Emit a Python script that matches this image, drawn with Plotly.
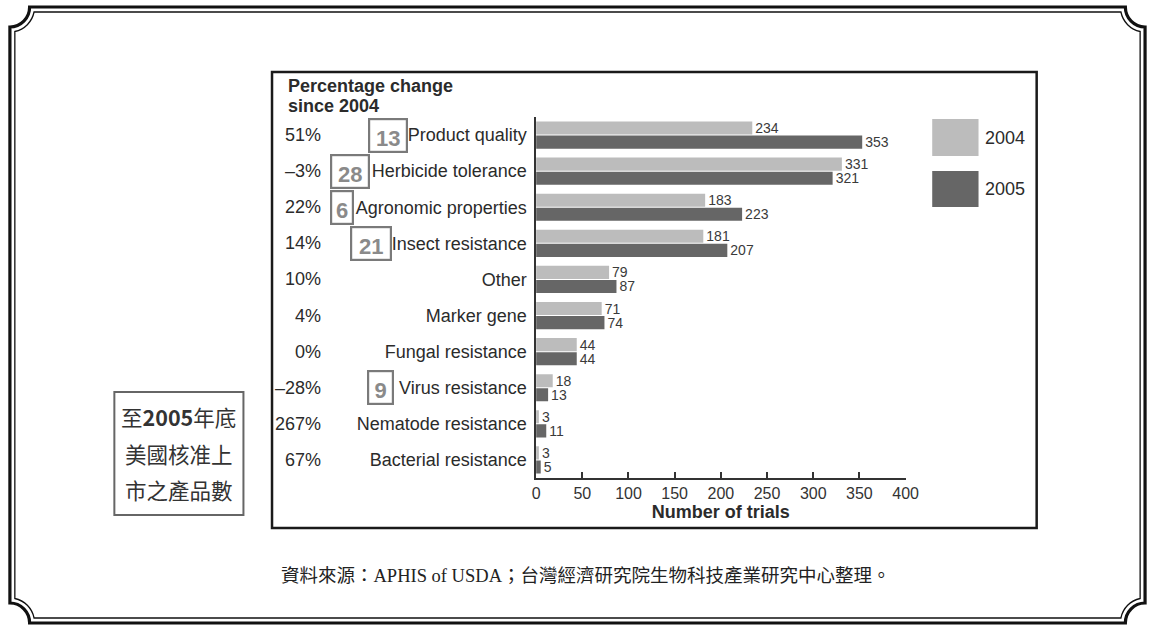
import math
import plotly.graph_objects as go

# ---- data -------------------------------------------------------------
categories = [
    "Product quality", "Herbicide tolerance", "Agronomic properties",
    "Insect resistance", "Other", "Marker gene", "Fungal resistance",
    "Virus resistance", "Nematode resistance", "Bacterial resistance",
]
trials_2004 = [234, 331, 183, 181, 79, 71, 44, 18, 3, 3]
trials_2005 = [353, 321, 223, 207, 87, 74, 44, 13, 11, 5]
pct_change = ["51%", "–3%", "22%", "14%", "10%", "4%", "0%", "–28%", "267%", "67%"]
approved_products = [13, 28, 6, 21, None, None, None, 9, None, None]
series_names = ["2004", "2005"]
x_ticks = [0, 50, 100, 150, 200, 250, 300, 350, 400]

# ---- page geometry (pixels) ------------------------------------------
W, H = 1162, 626


def px(x):
    return x / W


def py(y):
    return 1 - y / H


C_2004 = "#bcbcbc"
C_2005 = "#666666"
TXT = "#2b2b2b"
SANS = "Liberation Sans, Arial, sans-serif"
CJK = "Noto Sans CJK TC, sans-serif"

fig = go.Figure()
for name, vals, color in zip(series_names, [trials_2004, trials_2005], [C_2004, C_2005]):
    fig.add_trace(go.Bar(
        name=name, y=categories, x=vals, orientation="h",
        marker=dict(color=color, line=dict(width=0)),
        texttemplate="%{x}", textposition="outside", constraintext="none",
        textfont=dict(family=SANS, size=14, color="#3a3a3a"), cliponaxis=False,
    ))

shapes = []
annotations = []

# ---- decorative double frame with concave corners ---------------------
def frame_path(left, top, right, bottom, r, d):
    R = r + d
    t1 = math.asin(d / R)
    corners = [(right, top, 90), (right, bottom, 180), (left, bottom, 270), (left, top, 0)]

    def pt(cx, cy, a):
        return (cx + R * math.cos(a), cy + R * math.sin(a))

    def arc(cx, cy, a0, a1):
        k = 4 / 3 * math.tan((a1 - a0) / 4)
        p0 = pt(cx, cy, a0)
        p3 = pt(cx, cy, a1)
        p1 = (p0[0] + k * R * -math.sin(a0), p0[1] + k * R * math.cos(a0))
        p2 = (p3[0] - k * R * -math.sin(a1), p3[1] - k * R * math.cos(a1))
        return p0, p1, p2, p3

    start = pt(left, top, t1)
    path = f"M {px(start[0])},{py(start[1])}"
    for cx, cy, base in corners:
        b = math.radians(base)
        p0, p1, p2, p3 = arc(cx, cy, b + math.pi / 2 - t1, b + t1)
        path += f" L {px(p0[0])},{py(p0[1])}"
        path += (f" C {px(p1[0])},{py(p1[1])} {px(p2[0])},{py(p2[1])}"
                 f" {px(p3[0])},{py(p3[1])}")
    return path + " Z"


shapes.append(dict(type="path", xref="paper", yref="paper",
                   path=frame_path(6, 7, 1158, 623, 20, 0),
                   line=dict(color="#111", width=3.2)))
shapes.append(dict(type="path", xref="paper", yref="paper",
                   path=frame_path(6, 7, 1158, 623, 20, 5),
                   line=dict(color="#111", width=1.3)))

# ---- chart box ---------------------------------------------------------
shapes.append(dict(type="rect", xref="paper", yref="paper",
                   x0=px(272), x1=px(1048), y0=py(528), y1=py(72),
                   line=dict(color="#1a1a1a", width=2.5)))

# ---- header and percentage column --------------------------------------
annotations.append(dict(xref="paper", yref="paper", x=px(286), y=py(86),
                        xanchor="left", yanchor="middle", showarrow=False,
                        text="<b>Percentage change</b>",
                        font=dict(family=SANS, size=18, color=TXT)))
annotations.append(dict(xref="paper", yref="paper", x=px(286), y=py(106),
                        xanchor="left", yanchor="middle", showarrow=False,
                        text="<b>since 2004</b>",
                        font=dict(family=SANS, size=18, color=TXT)))
for cat, p in zip(categories, pct_change):
    annotations.append(dict(xref="paper", yref="y", x=px(324), y=cat,
                            xanchor="right", yanchor="middle", showarrow=False,
                            text=p, font=dict(family=SANS, size=18, color=TXT)))

# ---- boxed approval counts next to category names ----------------------
box_span = {  # left/right pixel edges of each count box
    "Product quality": (370, 410),
    "Herbicide tolerance": (331, 371),
    "Agronomic properties": (331, 355),
    "Insect resistance": (351, 393),
    "Virus resistance": (369, 396),
}
for cat, n in zip(categories, approved_products):
    if n is None:
        continue
    l, r = box_span[cat]
    annotations.append(dict(
        xref="paper", yref="y", x=px((l + r) / 2), y=cat,
        xanchor="center", yanchor="middle", showarrow=False,
        text=f"<b>{n}</b>", width=r - l - 4, height=31,
        align="center", valign="bottom", borderpad=0,
        bordercolor="#7a7a7a", borderwidth=2.2,
        font=dict(family=SANS, size=22, color="#8a8a8a")))

# ---- legend swatches ---------------------------------------------------
legend_rows = [(119, 156), (171, 207)]
for name, color, (y0, y1) in zip(series_names, [C_2004, C_2005], legend_rows):
    shapes.append(dict(type="rect", xref="paper", yref="paper",
                       x0=px(942), x1=px(989), y0=py(y1), y1=py(y0),
                       fillcolor=color, line=dict(width=0)))
    annotations.append(dict(xref="paper", yref="paper", x=px(994),
                            y=py((y0 + y1) / 2), xanchor="left", yanchor="middle",
                            showarrow=False, text=name,
                            font=dict(family=SANS, size=18, color=TXT)))

# ---- side note box -----------------------------------------------------
shapes.append(dict(type="rect", xref="paper", yref="paper",
                   x0=px(112), x1=px(243), y0=py(515), y1=py(392),
                   line=dict(color="#666", width=2)))
note_lines = ["至<b>2005</b>年底", "美國核准上", "市之產品數"]
for line, yy in zip(note_lines, [416, 453, 489]):
    annotations.append(dict(xref="paper", yref="paper", x=px(177.5), y=py(yy),
                            xanchor="center", yanchor="middle", showarrow=False,
                            text=line, font=dict(family=CJK, size=21.5, color="#333")))

# ---- source line -------------------------------------------------------
annotations.append(dict(
    xref="paper", yref="paper", x=px(591), y=py(576),
    xanchor="center", yanchor="middle", showarrow=False,
    text="資料來源：APHIS of USDA；台灣經濟研究院生物科技產業研究中心整理。",
    font=dict(family="Liberation Serif, Noto Sans CJK TC, serif", size=18.5, color="#222")))

fig.update_layout(
    width=W, height=H, autosize=False,
    margin=dict(l=0, r=0, t=0, b=0),
    paper_bgcolor="white", plot_bgcolor="white",
    barmode="group", bargap=0.22, bargroupgap=0.07,
    showlegend=False,
    shapes=shapes, annotations=annotations,
    xaxis=dict(
        domain=[px(540), px(915)], range=[0, 400],
        tickvals=x_ticks, ticks="inside", ticklen=6, tickwidth=1.5, tickcolor="#333",
        showline=True, linecolor="#333", linewidth=1.5,
        showgrid=False, zeroline=False,
        tickfont=dict(family=SANS, size=16, color="#333"),
        title=dict(text="<b>Number of trials</b>", standoff=1,
                   font=dict(family=SANS, size=18, color=TXT)),
    ),
    yaxis=dict(
        domain=[py(478), py(117)], range=[9.5, -0.5],
        categoryorder="array", categoryarray=categories,
        showline=True, linecolor="#333", linewidth=1.5,
        showgrid=False, zeroline=False, ticks="",
        ticklabelstandoff=4,
        tickfont=dict(family=SANS, size=18, color=TXT),
    ),
)

fig.write_html("out.html")
